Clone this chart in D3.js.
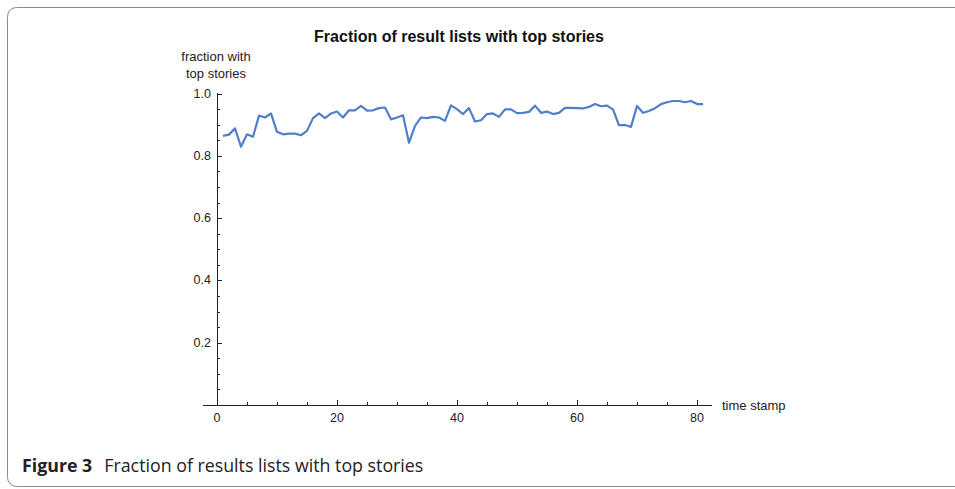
<!DOCTYPE html>
<html><head><meta charset="utf-8">
<script src="https://cdn.jsdelivr.net/npm/d3@7"></script>
<style>
html,body{margin:0;padding:0;background:#fff;}
svg{display:block;}
</style></head>
<body>
<svg id="chart" width="955" height="489"></svg>
<script>
const timeStamps = d3.range(1, 82);
const fractions = [
0.864,0.868,0.888,0.829,0.869,0.861,0.929,0.923,0.936,0.877,
0.869,0.871,0.871,0.866,0.880,0.921,0.936,0.921,0.936,0.942,
0.923,0.946,0.946,0.960,0.945,0.946,0.953,0.955,0.917,0.923,
0.930,0.842,0.896,0.923,0.921,0.925,0.923,0.912,0.962,0.950,
0.934,0.953,0.910,0.914,0.934,0.936,0.925,0.949,0.949,0.937,
0.938,0.941,0.961,0.938,0.942,0.934,0.938,0.954,0.954,0.953,
0.952,0.957,0.966,0.959,0.961,0.949,0.898,0.899,0.893,0.960,
0.938,0.944,0.953,0.966,0.972,0.976,0.976,0.972,0.976,0.966,
0.966];
const xTicks = [0,20,40,60,80];
const yTicks = [0.2,0.4,0.6,0.8,1.0];
const titleText = "Fraction of result lists with top stories";
const yLabel = ["fraction with","top stories"];
const xLabel = "time stamp";
const captionBold = "Figure 3";
const captionText = "Fraction of results lists with top stories";

const svg = d3.select("#chart");
// frame
svg.append("rect").attr("x",7.5).attr("y",7.5).attr("width",960).attr("height",479)
  .attr("rx",9).attr("fill","#fff").attr("stroke","#8a8a8a").attr("stroke-width",1);

const x = d3.scaleLinear().domain([0,80]).range([217,697]);
const y = d3.scaleLinear().domain([0,1]).range([405,93.5]);

const axisColor = "#222";
const labFont = "'Liberation Sans', Arial, sans-serif";

// x axis line
svg.append("line").attr("x1",203).attr("x2",712).attr("y1",405.5).attr("y2",405.5)
  .attr("stroke",axisColor).attr("stroke-width",1);
// y axis line
svg.append("line").attr("x1",217.5).attr("x2",217.5).attr("y1",405).attr("y2",93)
  .attr("stroke",axisColor).attr("stroke-width",1);

// x ticks
const xMinor = d3.range(0,85,5);
svg.selectAll(".xt").data(xMinor).join("line")
  .attr("x1",d=>Math.round(x(d))+0.5).attr("x2",d=>Math.round(x(d))+0.5)
  .attr("y1",405).attr("y2",d=>d%20===0?400:402)
  .attr("stroke",axisColor).attr("stroke-width",1);
svg.selectAll(".xl").data(xTicks).join("text")
  .attr("x",d=>x(d)).attr("y",422).attr("text-anchor","middle")
  .attr("font-family",labFont).attr("font-size",12.5).attr("fill","#222")
  .text(d=>d);

// y ticks
const yMinor = d3.range(0,1.0001,0.05);
svg.selectAll(".yt").data(yMinor).join("line")
  .attr("x1",217).attr("x2",(d,i)=>i%4===0?222:220)
  .attr("y1",d=>Math.round(y(d))+0.5).attr("y2",d=>Math.round(y(d))+0.5)
  .attr("stroke",axisColor).attr("stroke-width",1);
svg.selectAll(".yl").data(yTicks).join("text")
  .attr("x",211).attr("y",d=>y(d)+4).attr("text-anchor","end")
  .attr("font-family",labFont).attr("font-size",12.5).attr("fill","#222")
  .text(d=>d.toFixed(1));

// line
const line = d3.line().x((d,i)=>x(timeStamps[i])).y(d=>y(d));
svg.append("path").datum(fractions).attr("d",line)
  .attr("fill","none").attr("stroke","#4f7fcb").attr("stroke-width",2.2)
  .attr("stroke-linejoin","round");

// title
svg.append("text").attr("x",459).attr("y",42).attr("text-anchor","middle")
  .attr("font-family",labFont).attr("font-size",16).attr("font-weight","bold")
  .attr("fill","#111").text(titleText);

// y label
svg.selectAll(".ylab").data(yLabel).join("text")
  .attr("x",216).attr("y",(d,i)=>61+i*17).attr("text-anchor","middle")
  .attr("font-family",labFont).attr("font-size",13).attr("fill","#222").text(d=>d);

// x label
svg.append("text").attr("x",722).attr("y",410).attr("font-family",labFont)
  .attr("font-size",13).attr("fill","#222").text(xLabel);

// caption
const cap = svg.append("text").attr("x",22).attr("y",472)
  .attr("font-family","'Open Sans', 'Noto Sans', sans-serif").attr("font-size",17.8).attr("fill","#222");
cap.append("tspan").attr("font-weight","bold").text(captionBold);
cap.append("tspan").attr("dx",12).text(captionText);
</script>
</body></html>
